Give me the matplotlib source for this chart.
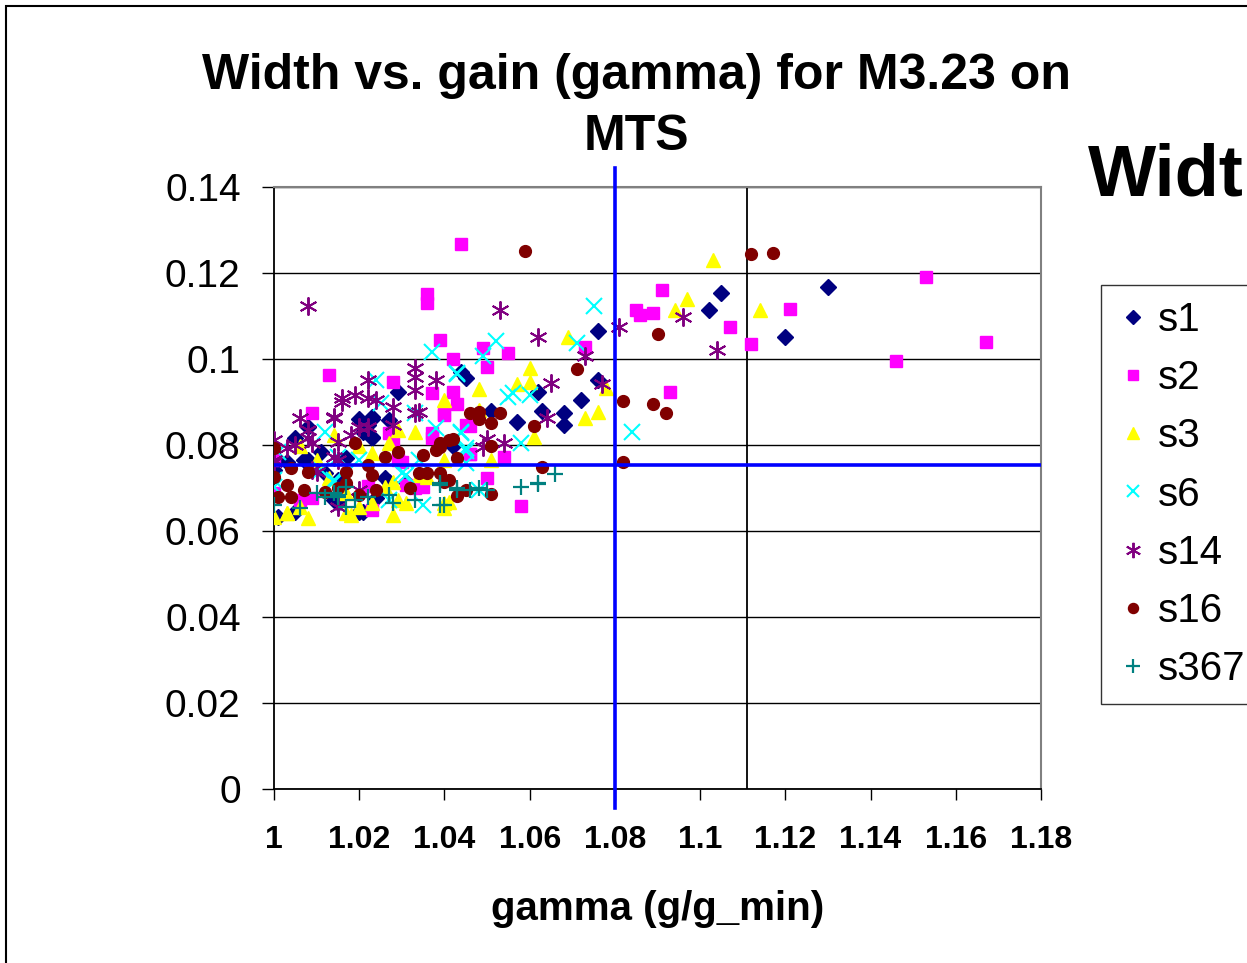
import matplotlib
matplotlib.use("Agg")
import matplotlib.pyplot as plt
from matplotlib.patches import Rectangle

plt.rcParams['font.family'] = ['Liberation Sans', 'DejaVu Sans']

# data (gamma, width)
s1_x = [1.130, 1.105, 1.102, 1.120, 1.076, 1.076, 1.072, 1.062, 1.063, 1.068, 1.068, 1.057,
        1.045, 1.044, 1.051, 1.042, 1.029, 1.023, 1.020, 1.023, 1.008, 1.005, 1.011, 1.008,
        1.007, 1.000, 1.015, 1.027, 1.020, 1.015, 1.001, 1.005, 1.021, 1.021, 1.022, 1.014,
        1.012, 1.017, 1.003, 1.026, 1.031, 1.023, 1.027, 1.023, 1.024]
s1_y = [0.1168, 0.1154, 0.1114, 0.1051, 0.1065, 0.0951, 0.0905, 0.0923, 0.0879, 0.0875, 0.0847, 0.0854,
        0.0956, 0.0970, 0.0879, 0.0798, 0.0923, 0.0861, 0.0861, 0.0816, 0.0842, 0.0816, 0.0784, 0.0765,
        0.0765, 0.0742, 0.0719, 0.0714, 0.0644, 0.0665, 0.0633, 0.0644, 0.0644, 0.0830, 0.0847, 0.0672,
        0.0735, 0.0770, 0.0760, 0.0723, 0.0714, 0.0865, 0.0858, 0.0819, 0.0677]

s2_x = [1.044, 1.153, 1.167, 1.146, 1.121, 1.112, 1.107, 1.091, 1.089, 1.086, 1.085, 1.093,
        1.073, 1.049, 1.055, 1.042, 1.050, 1.039, 1.042, 1.043, 1.040, 1.046, 1.046, 1.054,
        1.050, 1.058, 1.036, 1.036, 1.013, 1.028, 1.037, 1.009, 1.040, 1.027, 1.037, 1.028,
        1.029, 1.000, 1.000, 1.009, 1.023, 1.006, 1.035, 1.045, 1.046, 1.031, 1.033, 1.022,
        1.030, 1.037]
s2_y = [0.1268, 0.1191, 0.1040, 0.0996, 0.1116, 0.1035, 0.1075, 0.1161, 0.1107, 0.1103, 0.1114, 0.0923,
        0.1028, 0.1026, 0.1014, 0.1000, 0.0982, 0.1044, 0.0923, 0.0896, 0.0872, 0.0844, 0.0779, 0.0772,
        0.0723, 0.0658, 0.1151, 0.1130, 0.0963, 0.0947, 0.0921, 0.0875, 0.0870, 0.0828, 0.0816, 0.0805,
        0.0765, 0.0765, 0.0688, 0.0677, 0.0649, 0.0672, 0.0702, 0.0847, 0.0780, 0.0707, 0.0700, 0.0705,
        0.0760, 0.0828]

s3_x = [1.103, 1.114, 1.097, 1.094, 1.069, 1.060, 1.060, 1.057, 1.048, 1.040, 1.078, 1.076,
        1.073, 1.048, 1.061, 1.051, 1.040, 1.040, 1.033, 1.029, 1.027, 1.023, 1.020, 1.014,
        1.006, 1.010, 1.036, 1.028, 1.026, 1.017, 1.023, 1.017, 1.008, 1.003, 1.000, 1.028,
        1.031, 1.040, 1.034, 1.029, 1.041, 1.006, 1.020, 1.018, 1.013, 1.003]
s3_y = [0.1230, 0.1114, 0.1140, 0.1114, 0.1051, 0.0979, 0.0947, 0.0942, 0.0930, 0.0905, 0.0933, 0.0877,
        0.0863, 0.0882, 0.0819, 0.0765, 0.0765, 0.0654, 0.0830, 0.0835, 0.0805, 0.0782, 0.0798, 0.0823,
        0.0798, 0.0765, 0.0726, 0.0714, 0.0702, 0.0688, 0.0665, 0.0642, 0.0630, 0.0642, 0.0633, 0.0637,
        0.0665, 0.0665, 0.0730, 0.0672, 0.0667, 0.0656, 0.0656, 0.0637, 0.0723, 0.0642]

s6_x = [1.075, 1.071, 1.084, 1.052, 1.049, 1.043, 1.055, 1.056, 1.060, 1.044, 1.045, 1.058,
        1.045, 1.048, 1.037, 1.024, 1.025, 1.033, 1.043, 1.038, 1.012, 1.015, 1.020, 1.011,
        1.031, 1.000, 1.035, 1.027, 1.014, 1.034, 1.044, 1.030, 1.045, 1.000, 1.001, 1.014]
s6_y = [0.1123, 0.1037, 0.0830, 0.1042, 0.1007, 0.0965, 0.0912, 0.0921, 0.0916, 0.0830, 0.0786, 0.0805,
        0.0758, 0.0695, 0.1016, 0.0951, 0.0898, 0.0875, 0.0968, 0.0840, 0.0830, 0.0772, 0.0765, 0.0742,
        0.0730, 0.0702, 0.0661, 0.0672, 0.0719, 0.0765, 0.0828, 0.0735, 0.0793, 0.0719, 0.0784, 0.0714]

s14_x = [1.008, 1.053, 1.104, 1.096, 1.081, 1.062, 1.073, 1.077, 1.065, 1.064, 1.050, 1.054,
         1.049, 1.033, 1.033, 1.033, 1.038, 1.022, 1.016, 1.019, 1.022, 1.024, 1.028, 1.033,
         1.034, 1.014, 1.006, 1.008, 1.008, 1.015, 1.000, 1.003, 1.028, 1.020, 1.022, 1.018,
         1.014, 1.000, 1.010, 1.015, 1.020, 1.016, 1.014, 1.000, 1.005, 1.009, 1.009, 1.015]
s14_y = [0.1123, 0.1114, 0.1021, 0.1098, 0.1075, 0.1051, 0.1007, 0.0942, 0.0944, 0.0863, 0.0814, 0.0805,
         0.0795, 0.0979, 0.0958, 0.0928, 0.0951, 0.0951, 0.0909, 0.0916, 0.0909, 0.0905, 0.0889, 0.0875,
         0.0877, 0.0863, 0.0863, 0.0835, 0.0816, 0.0807, 0.0812, 0.0793, 0.0847, 0.0842, 0.0842, 0.0823,
         0.0772, 0.0765, 0.0737, 0.0765, 0.0695, 0.0900, 0.0865, 0.0761, 0.0800, 0.0805, 0.0742, 0.0656]

s16_x = [1.059, 1.112, 1.117, 1.090, 1.089, 1.092, 1.082, 1.071, 1.082, 1.063, 1.061, 1.053,
         1.051, 1.048, 1.048, 1.046, 1.051, 1.041, 1.039, 1.043, 1.039, 1.040, 1.043, 1.051,
         1.000, 1.019, 1.029, 1.026, 1.000, 1.004, 1.003, 1.001, 1.004, 1.007, 1.008, 1.022,
         1.023, 1.017, 1.017, 1.024, 1.015, 1.012, 1.020, 1.032, 1.036, 1.041, 1.039, 1.042,
         1.035, 1.038, 1.034, 1.045]
s16_y = [0.1251, 0.1244, 0.1247, 0.1058, 0.0896, 0.0875, 0.0902, 0.0977, 0.0761, 0.0749, 0.0844, 0.0875,
         0.0851, 0.0877, 0.0861, 0.0875, 0.0798, 0.0812, 0.0795, 0.0770, 0.0735, 0.0714, 0.0682, 0.0686,
         0.0793, 0.0805, 0.0784, 0.0772, 0.0726, 0.0747, 0.0707, 0.0679, 0.0679, 0.0695, 0.0737, 0.0754,
         0.0730, 0.0737, 0.0712, 0.0695, 0.0700, 0.0691, 0.0684, 0.0700, 0.0735, 0.0719, 0.0805, 0.0814,
         0.0777, 0.0788, 0.0735, 0.0695]

s367_x = [1.039, 1.043, 1.046, 1.048, 1.050, 1.058, 1.062, 1.062, 1.066, 1.039, 1.000, 1.006,
          1.012, 1.015, 1.017, 1.015, 1.017, 1.022, 1.027, 1.028, 1.033, 1.039, 1.040, 1.043,
          1.014, 1.019, 1.010]
s367_y = [0.0712, 0.0700, 0.0695, 0.0700, 0.0695, 0.0702, 0.0709, 0.0712, 0.0733, 0.0661, 0.0661, 0.0654,
          0.0679, 0.0684, 0.0702, 0.0679, 0.0656, 0.0679, 0.0684, 0.0665, 0.0672, 0.0707, 0.0661, 0.0695,
          0.0688, 0.0672, 0.0688]

gamma_cut = 1.08
width_cut = 0.0754
gamma_mark = 1.111

x_ticks = [1, 1.02, 1.04, 1.06, 1.08, 1.1, 1.12, 1.14, 1.16, 1.18]
x_tick_labels = ['1', '1.02', '1.04', '1.06', '1.08', '1.1', '1.12', '1.14', '1.16', '1.18']
y_ticks = [0, 0.02, 0.04, 0.06, 0.08, 0.1, 0.12, 0.14]
y_tick_labels = ['0', '0.02', '0.04', '0.06', '0.08', '0.1', '0.12', '0.14']

fig = plt.figure(figsize=(12.47, 9.63), dpi=100)
ax = fig.add_axes([274 / 1247, 1 - 789 / 963, 767 / 1247, 602 / 963])

series = [
    ('s1', s1_x, s1_y, 'D', '#000080', 8, 1),
    ('s2', s2_x, s2_y, 's', '#FF00FF', 8, 1),
    ('s3', s3_x, s3_y, '^', '#FFFF00', 9.5, 1),
    ('s6', s6_x, s6_y, 'x', '#00FFFF', 11, 1.5),
    ('s14', s14_x, s14_y, (6, 2, 0), '#800080', 13, 1.4),
    ('s16', s16_x, s16_y, 'o', '#800000', 8.5, 1),
    ('s367', s367_x, s367_y, '+', '#008080', 12, 1.6),
]
for name, xs, ys, mk, col, ms, mew in series:
    ax.plot(xs, ys, linestyle='none', marker=mk, markersize=ms, color=col,
            markeredgecolor=col, markeredgewidth=mew, label=name, zorder=3)

ax.axvline(gamma_cut, ymin=-0.032, ymax=1.032, color='#0000FF', lw=2.6, clip_on=False, zorder=4)
ax.axhline(width_cut, color='#0000FF', lw=2.6, zorder=4)
ax.axvline(gamma_mark, color='black', lw=1.3, zorder=2)

ax.set_xlim(1, 1.18)
ax.set_ylim(0, 0.14)
ax.set_xticks(x_ticks)
ax.set_xticklabels(x_tick_labels, fontsize=23, fontweight='bold')
ax.set_yticks(y_ticks)
ax.set_yticklabels(y_tick_labels, fontsize=28)
ax.tick_params(axis='y', direction='out', length=9, width=1, pad=15)
ax.tick_params(axis='x', direction='out', length=8, width=1, pad=18)
ax.yaxis.grid(True, color='black', lw=1)
ax.set_axisbelow(True)

for side in ['top', 'right']:
    ax.spines[side].set_color('#808080')
    ax.spines[side].set_linewidth(1.5)
for side in ['left', 'bottom']:
    ax.spines[side].set_color('black')
    ax.spines[side].set_linewidth(1.3)

ax.set_xlabel('gamma (g/g_min)', fontsize=29, fontweight='bold', labelpad=25)

fig.text(636 / 1247, 1 - 150 / 963, 'Width vs. gain (gamma) for M3.23 on\nMTS',
         ha='center', va='baseline', fontsize=36, fontweight='bold', linespacing=1.43)
# title of the neighbouring chart, cut by the right edge
fig.text(1088 / 1247, 1 - 195 / 963, 'Width', ha='left', va='baseline',
         fontsize=52, fontweight='bold')

leg = fig.legend(loc='upper left', bbox_to_anchor=(1101 / 1247, 1 - 285 / 963),
                 fontsize=29, frameon=True, fancybox=False, edgecolor='black',
                 markerscale=0.85, handlelength=0.8, handletextpad=0.2,
                 labelspacing=0.5, borderpad=0.4, borderaxespad=0)
leg.get_frame().set_linewidth(1)

fig.add_artist(Rectangle((6 / 1247, -0.1), 1.2, 1.1 - 6 / 963, transform=fig.transFigure,
                         fill=False, edgecolor='black', lw=1.5))

fig.savefig('out.png', dpi=100)
